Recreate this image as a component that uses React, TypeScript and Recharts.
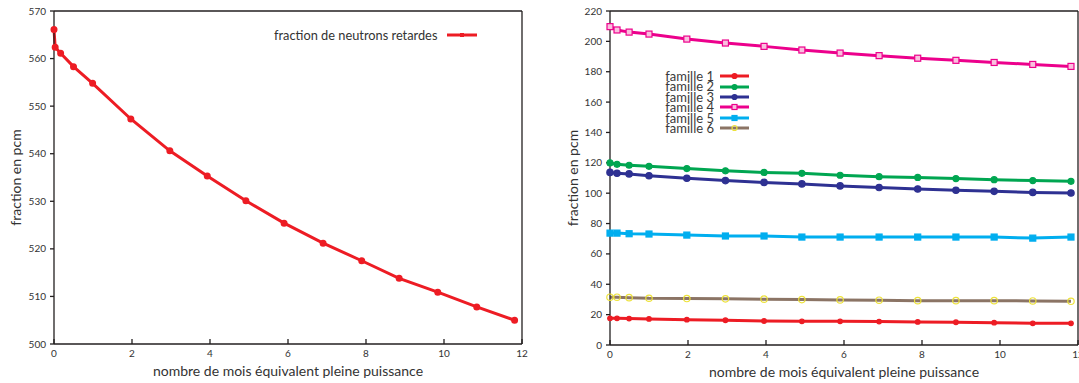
import { LineChart, Line, XAxis, YAxis, Legend } from "recharts";

// left chart: total delayed neutron fraction
const leftMonths = [0, 0.03, 0.17, 0.5, 0.99, 1.97, 2.97, 3.93, 4.92, 5.9, 6.9, 7.89, 8.85, 9.84, 10.84, 11.81];
const leftFraction = [566.1, 562.4, 561.1, 558.3, 554.8, 547.3, 540.6, 535.3, 530.1, 525.4, 521.2, 517.5, 513.8, 510.9, 507.8, 505.0];

// right chart: the six precursor families
const rightMonths = [0, 0.18, 0.49, 1.0, 1.97, 2.96, 3.95, 4.92, 5.9, 6.9, 7.89, 8.87, 9.85, 10.84, 11.82];
const famille1 = [17.6, 17.6, 17.4, 17.2, 16.7, 16.3, 15.8, 15.6, 15.6, 15.4, 15.2, 15.0, 14.7, 14.3, 14.3];
const famille2 = [119.9, 119.0, 118.4, 117.7, 116.2, 114.7, 113.7, 113.1, 111.8, 110.9, 110.4, 109.6, 108.9, 108.3, 107.8];
const famille3 = [113.7, 113.1, 112.7, 111.5, 109.8, 108.3, 107.1, 106.1, 104.8, 103.7, 102.8, 101.9, 101.2, 100.5, 100.1];
const famille4 = [209.7, 207.5, 206.1, 204.8, 201.5, 198.9, 196.7, 194.3, 192.3, 190.6, 188.9, 187.5, 186.1, 184.8, 183.5];
const famille5 = [73.7, 73.7, 73.3, 73.1, 72.4, 71.8, 71.8, 71.1, 71.1, 71.1, 71.1, 71.1, 71.1, 70.4, 71.1];
const famille6 = [31.5, 31.5, 31.2, 30.8, 30.6, 30.4, 30.2, 29.9, 29.7, 29.5, 29.2, 29.2, 29.2, 29.0, 28.8];

const xTicks = [0, 2, 4, 6, 8, 10, 12];
const leftYTicks = [500, 510, 520, 530, 540, 550, 560, 570];
const rightYTicks = [0, 20, 40, 60, 80, 100, 120, 140, 160, 180, 200, 220];

const FONT = "Lato, 'Liberation Sans', sans-serif";
const AXIS = "#231f20";
const TICK_TEXT = { fontSize: 10, fill: "#333", fontFamily: FONT };
const LABEL_STYLE = { fontSize: 14, fill: "#333", fontFamily: FONT, textAnchor: "middle" as const };

const leftData = leftMonths.map((x, i) => ({ x, total: leftFraction[i] }));
const rightData = rightMonths.map((x, i) => ({
  x,
  f1: famille1[i],
  f2: famille2[i],
  f3: famille3[i],
  f4: famille4[i],
  f5: famille5[i],
  f6: famille6[i],
}));

type Marker = { shape: "circle" | "square"; size: number; fill: string; stroke: string };

const families: { key: string; name: string; color: string; marker: Marker }[] = [
  { key: "f1", name: "famille 1", color: "#ed1c24", marker: { shape: "circle", size: 2.3, fill: "#ed1c24", stroke: "#ed1c24" } },
  { key: "f2", name: "famille 2", color: "#00a651", marker: { shape: "circle", size: 3, fill: "#00a651", stroke: "#00a651" } },
  { key: "f3", name: "famille 3", color: "#2e3192", marker: { shape: "circle", size: 3.2, fill: "#2e3192", stroke: "#2e3192" } },
  { key: "f4", name: "famille 4", color: "#ec008c", marker: { shape: "square", size: 6, fill: "#f9c0de", stroke: "#ec008c" } },
  { key: "f5", name: "famille 5", color: "#00aeef", marker: { shape: "square", size: 6, fill: "#00aeef", stroke: "#00aeef" } },
  { key: "f6", name: "famille 6", color: "#8b7465", marker: { shape: "circle", size: 3.2, fill: "none", stroke: "#ede23a" } },
];

const markerShape = (m: Marker, cx: number, cy: number, key?: string) =>
  m.shape === "square" ? (
    <rect key={key} x={cx - m.size / 2} y={cy - m.size / 2} width={m.size} height={m.size} fill={m.fill} stroke={m.stroke} strokeWidth={1.2} />
  ) : (
    <circle key={key} cx={cx} cy={cy} r={m.size} fill={m.fill} stroke={m.stroke} strokeWidth={1.2} />
  );

const dotFor = (m: Marker) => (p: any) => markerShape(m, p.cx, p.cy, `d-${p.index}`);

function LeftLegend() {
  return (
    <div style={{ display: "flex", alignItems: "center", fontFamily: FONT, fontSize: 12.8, color: "#333" }}>
      <span>fraction de neutrons retardes</span>
      <svg width={32} height={10} style={{ marginLeft: 9 }}>
        <line x1={1} y1={5} x2={31} y2={5} stroke="#ed1c24" strokeWidth={3} />
        <rect x={14} y={3} width={4} height={4} fill="#ed1c24" />
      </svg>
    </div>
  );
}

function RightLegend() {
  return (
    <div style={{ fontFamily: FONT, fontSize: 13, color: "#3a3a3a" }}>
      {families.map((f) => (
        <div key={f.key} style={{ display: "flex", alignItems: "center", height: 10.4 }}>
          <span style={{ width: 54, textAlign: "right", lineHeight: "10.4px" }}>{f.name}</span>
          <svg width={31} height={10} style={{ marginLeft: 5 }}>
            <line x1={1} y1={5} x2={30} y2={5} stroke={f.color} strokeWidth={3} />
            {markerShape({ ...f.marker, size: f.marker.shape === "square" ? 5 : 2.5 }, 15.5, 5)}
          </svg>
        </div>
      ))}
    </div>
  );
}

const axisLine = { stroke: AXIS, strokeWidth: 1.3 };

export default function App() {
  return (
    <div style={{ position: "absolute", left: 0, top: 0, width: 1079, height: 383, overflow: "hidden", background: "#fff", fontFamily: FONT }}>
      <div style={{ position: "absolute", left: 0, top: 0 }}>
        <LineChart width={540} height={383} data={leftData} margin={{ top: 11, right: 18, bottom: 0, left: 0 }}>
          <XAxis
            dataKey="x"
            type="number"
            domain={[0, 12]}
            ticks={xTicks}
            height={39}
            tickSize={-5}
            tickMargin={11}
            axisLine={axisLine}
            tickLine={axisLine}
            tick={TICK_TEXT}
            label={{ value: "nombre de mois équivalent pleine puissance", position: "insideBottom", offset: 7, style: LABEL_STYLE }}
          />
          <XAxis xAxisId="top" orientation="top" type="number" domain={[0, 12]} ticks={xTicks} mirror tick={false} tickSize={5} axisLine={axisLine} tickLine={axisLine} allowDataOverflow />
          <YAxis
            type="number"
            domain={[500, 570]}
            ticks={leftYTicks}
            width={54}
            tickSize={4}
            tickMargin={4}
            axisLine={axisLine}
            tickLine={axisLine}
            tick={TICK_TEXT}
            label={{ value: "fraction en pcm", angle: -90, position: "insideLeft", offset: 16, style: LABEL_STYLE }}
          />
          <YAxis yAxisId="right" orientation="right" type="number" domain={[500, 570]} ticks={leftYTicks} mirror tick={false} tickSize={5} axisLine={axisLine} tickLine={axisLine} allowDataOverflow />
          <Legend layout="vertical" align="center" verticalAlign="middle" wrapperStyle={{ left: 274, top: 27 }} content={() => <LeftLegend />} />
          <Line
            type="linear"
            dataKey="total"
            name="fraction de neutrons retardes"
            stroke="#ed1c24"
            strokeWidth={3}
            dot={{ r: 2, fill: "#ed1c24", stroke: "#ed1c24" }}
            isAnimationActive={false}
          />
        </LineChart>
      </div>
      <div style={{ position: "absolute", left: 556, top: 0 }}>
        <LineChart width={540} height={383} data={rightData} margin={{ top: 11, right: 18, bottom: 0, left: 0 }}>
          <XAxis
            dataKey="x"
            type="number"
            domain={[0, 12]}
            ticks={xTicks}
            height={38}
            tickSize={-5}
            tickMargin={11}
            axisLine={axisLine}
            tickLine={axisLine}
            tick={TICK_TEXT}
            label={{ value: "nombre de mois équivalent pleine puissance", position: "insideBottom", offset: 6, style: LABEL_STYLE }}
          />
          <XAxis xAxisId="top" orientation="top" type="number" domain={[0, 12]} ticks={xTicks} mirror tick={false} tickSize={5} axisLine={axisLine} tickLine={axisLine} allowDataOverflow />
          <YAxis
            type="number"
            domain={[0, 220]}
            ticks={rightYTicks}
            width={54}
            tickSize={4}
            tickMargin={4}
            axisLine={axisLine}
            tickLine={axisLine}
            tick={TICK_TEXT}
            label={{ value: "fraction en pcm", angle: -90, position: "insideLeft", offset: 17, style: LABEL_STYLE }}
          />
          <YAxis yAxisId="right" orientation="right" type="number" domain={[0, 220]} ticks={rightYTicks} mirror tick={false} tickSize={5} axisLine={axisLine} tickLine={axisLine} allowDataOverflow />
          <Legend layout="vertical" align="center" verticalAlign="middle" wrapperStyle={{ left: 104, top: 71 }} content={() => <RightLegend />} />
          {families.map((f) => (
            <Line
              key={f.key}
              type="linear"
              dataKey={f.key}
              name={f.name}
              stroke={f.color}
              strokeWidth={3}
              dot={dotFor(f.marker)}
              isAnimationActive={false}
            />
          ))}
        </LineChart>
      </div>
    </div>
  );
}
